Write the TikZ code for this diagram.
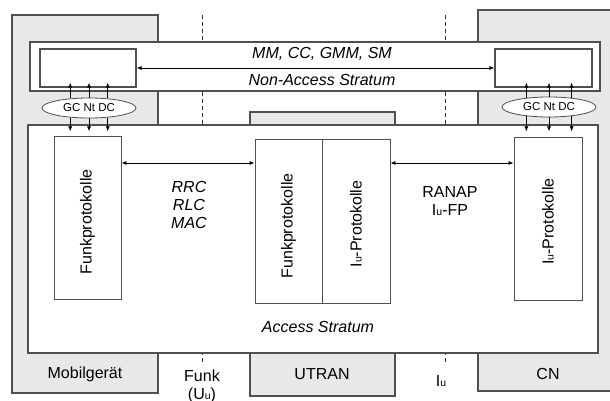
\documentclass[tikz,border=0pt]{standalone}
\usepackage{fontspec}
\setmainfont{Liberation Sans}
\usepackage{tikz}
\usetikzlibrary{arrows.meta,calc,shapes.geometric}
\definecolor{linegray}{HTML}{505050}
\definecolor{boxgray}{HTML}{E8E8E8}
\newcommand{\diagfont}{\fontsize{16}{18}\selectfont}
\newcommand{\smallu}{{\fontsize{10.5}{10}\selectfont u}}
\tikzset{
  entity/.style={
    draw=linegray,fill=boxgray,line width=1.1pt,inner sep=0pt
  },
  layer/.style={
    draw=linegray,fill=white,line width=1.1pt,inner sep=0pt
  },
  protobox/.style={
    draw=linegray,fill=white,line width=.9pt,inner sep=0pt,
    minimum width=67pt,minimum height=163pt
  },
  gcnt/.style={
    ellipse,draw=linegray,fill=white,line width=.8pt,inner sep=0pt,
    minimum width=94pt,minimum height=20pt,
    font=\fontsize{11.5}{13}\selectfont
  },
  lbl/.style={font=\diagfont,inner sep=0pt},
  ital/.style={font=\diagfont\itshape,inner sep=0pt},
  vlbl/.style={font=\diagfont,inner sep=0pt,rotate=90},
  iface/.style={draw=black!80,line width=.7pt,dash pattern=on 4pt off 3pt},
  sarrow/.style={-{Latex[length=5pt,width=4pt]},line width=.8pt},
  dblarrow/.style={{Latex[length=5pt,width=4pt]}-{Latex[length=5pt,width=4pt]},line width=.8pt}
}
\begin{document}
\begin{tikzpicture}[x=1pt,y=-1pt]
\clip (0,0) rectangle (610,401);
% Endgeraet und Netze
\node[entity,minimum width=146pt,minimum height=378pt] (mobil) at (85,204) {};
\node[entity,minimum width=145pt,minimum height=284pt] (utran) at (322.5,254) {};
\node[entity,minimum width=137pt,minimum height=381pt] (cn) at (546.5,200.5) {};
\node[lbl] (mobilLbl) at (85,374) {Mobilgerät};
\node[lbl] (utranLbl) at (322,374) {UTRAN};
\node[lbl] (cnLbl) at (548,374) {CN};

% Schnittstellen
\coordinate (uuTop) at (202,15);
\coordinate (uuBot) at (202,364);
\coordinate (iuTop) at (445,15);
\coordinate (iuBot) at (445,364);
\draw[iface] (uuTop) -- (uuBot);
\draw[iface] (iuTop) -- (iuBot);
\node[lbl,align=center] (funkLbl) at (202,386) {Funk\\(U\smallu)};
\node[lbl] (iuLbl) at (441,381) {I\smallu};

% Non-Access Stratum
\node[layer,minimum width=570pt,minimum height=49pt] (nas) at (315,66.5) {};
\node[layer,minimum width=96pt,minimum height=38pt] (nasMobil) at (88,68) {};
\node[layer,minimum width=97pt,minimum height=38pt] (nasCn) at (543.5,68) {};
\node[ital] (nasTop) at (322,54) {MM, CC, GMM, SM};
\node[ital] (nasBot) at (322,80) {Non-Access Stratum};
\draw[dblarrow] (nasMobil.east) -- (nasCn.west);

% Access Stratum
\node[layer,minimum width=570pt,minimum height=228pt] (as) at (313,239) {};
\node[ital] (asLbl) at (318,327) {Access Stratum};

\node[protobox] (funkMobil) at (87.5,218) {};
\node[protobox,minimum height=164pt] (funkUtran) at (288.5,221) {};
\node[protobox,minimum width=68pt,minimum height=164pt] (iuUtran) at (356,221) {};
\node[protobox,minimum width=68pt] (iuCn) at (548,218.5) {};
\node[vlbl] at ([yshift=-4pt]funkMobil.center) {Funkprotokolle};
\node[vlbl] at ([yshift=-5pt]funkUtran.center) {Funkprotokolle};
\node[vlbl] at ([yshift=-3pt]iuUtran.center) {I\smallu-Protokolle};
\node[vlbl] at ([yshift=-3pt]iuCn.center) {I\smallu-Protokolle};

\coordinate (rrcL) at ($(funkMobil.east)+(0,-55)$);
\coordinate (ranapL) at ($(iuUtran.east)+(0,-58)$);
\draw[dblarrow] (rrcL) -- (rrcL -| funkUtran.west);
\draw[dblarrow] (ranapL) -- (ranapL -| iuCn.west);
\node[ital,align=center] (rrcLbl) at (189,205) {RRC\\RLC\\MAC};
\node[lbl,align=center] (ranapLbl) at (450,201) {RANAP\\I\smallu-FP};

% Dienstzugangspunkte
\node[gcnt] (gcMobil) at (89,108) {GC Nt DC};
\node[gcnt] (gcCn) at (549,107) {GC Nt DC};
\foreach \a in {153,90,27}
  \draw[sarrow] (gcMobil.\a) -- ($(gcMobil.\a |- nasMobil.south)+(0,-5)$);
\foreach \a in {207,270,333}
  \draw[sarrow] (gcMobil.\a) -- ($(gcMobil.\a |- as.north)+(0,7)$);
\foreach \a in {158,90,22}
  \draw[sarrow] (gcCn.\a) -- ($(gcCn.\a |- nasCn.south)+(0,-5)$);
\foreach \a in {202,270,338}
  \draw[sarrow] (gcCn.\a) -- ($(gcCn.\a |- as.north)+(0,7)$);
\end{tikzpicture}
\end{document}
